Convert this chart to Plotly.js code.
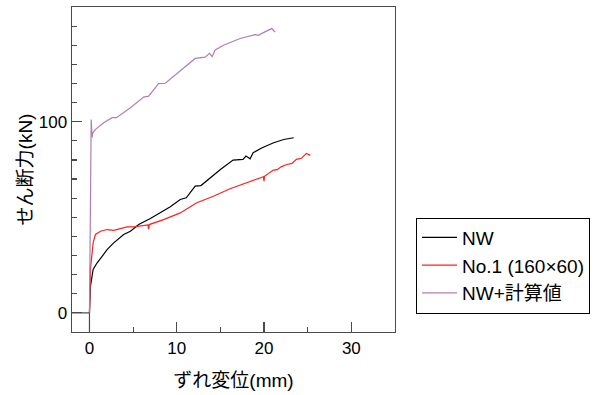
<!DOCTYPE html>
<html><head><meta charset="utf-8">
<script src="https://cdn.plot.ly/plotly-3.0.1.min.js"></script>
<style>html,body{margin:0;padding:0;background:#fff}#chart{width:597px;height:395px}</style>
</head><body><div id="chart"></div>
<script>
const seriesNames = ["NW", "No.1 (160×60)", "NW+計算値"];
const nwX = [0, 0.11, 0.42, 0.88, 1.45, 2.02, 2.78, 3.92, 4.69, 5.64, 6.98, 7.74, 9.26, 10.4, 11.09, 12.11, 12.77, 15.0, 16.45, 17.59, 17.93, 18.4, 18.75, 19.78, 21.1, 22.25, 23.4];
const nwY = [0, 13.9, 22.7, 26.2, 29.6, 33.1, 36.6, 41.0, 42.7, 46.2, 49.4, 51.5, 55.5, 59.3, 60.2, 66.3, 66.6, 75.0, 79.9, 80.3, 82.0, 80.6, 83.8, 86.4, 89.0, 90.7, 91.6];
const no1X = [0, 0.11, 0.42, 0.69, 1.26, 2.02, 2.78, 3.54, 4.31, 5.07, 6.21, 6.7, 6.78, 6.85, 8.49, 10.4, 12.3, 14.2, 16.1, 18.0, 19.15, 19.92, 20.0, 20.05, 21.07, 21.5, 22.0, 22.6, 23.2, 23.7, 24.3, 24.85, 25.3];
const no1Y = [0, 22.7, 36.6, 41.0, 42.7, 43.6, 43.2, 44.0, 45.0, 45.0, 45.7, 46.0, 43.8, 46.2, 48.8, 52.3, 57.6, 61.0, 64.9, 68.1, 70.2, 71.2, 68.9, 71.4, 74.7, 74.9, 76.5, 77.6, 78.2, 80.3, 80.9, 83.4, 82.4];
const calcX = [0, 0.2, 0.3, 0.38, 0.69, 1.63, 2.59, 3.09, 4.69, 6.21, 6.78, 7.92, 8.69, 10.4, 12.11, 13.26, 13.75, 14.06, 14.4, 15.35, 17.26, 18.97, 19.35, 19.92, 20.88, 21.26];
const calcY = [0, 101.2, 91.8, 94.2, 96.0, 99.5, 102.1, 102.1, 107.3, 112.9, 113.4, 119.9, 120.1, 126.5, 133.1, 133.8, 135.8, 134.0, 137.5, 140.0, 143.5, 145.5, 145.2, 146.6, 148.7, 146.9];
const xTicks = [0, 10, 20, 30];
const yTicks = [0, 100];
const xRange = [-2, 35];
const yRange = [-10, 160];

const FONT = "Liberation Sans, Arial, Noto Sans CJK JP, sans-serif";
const AX = "#4a4a4a";
const traces = [
  {x: nwX, y: nwY, name: seriesNames[0], mode: "lines", line: {color: "#000000", width: 1.2}},
  {x: no1X, y: no1Y, name: seriesNames[1], mode: "lines", line: {color: "#ff2020", width: 1.2}},
  {x: calcX, y: calcY, name: seriesNames[2], mode: "lines", line: {color: "#b07fb0", width: 1.2}}
];
const axisCommon = {
  showgrid: false, zeroline: false, showline: true, mirror: true,
  linecolor: AX, linewidth: 1.4, ticks: "inside", ticklen: 10, tickcolor: AX, tickwidth: 1.2,
  tickfont: {family: FONT, size: 17, color: "#000"}
};
const layout = {
  width: 597, height: 395,
  margin: {l: 72, r: 202, t: 7, b: 63},
  paper_bgcolor: "#fff", plot_bgcolor: "#fff",
  font: {family: FONT, size: 17, color: "#000"},
  xaxis: Object.assign({}, axisCommon, {
    range: xRange, tickmode: "array", tickvals: xTicks, ticktext: xTicks.map(String),
    minor: {dtick: 5, tick0: 0, ticks: "inside", ticklen: 5, tickcolor: AX},
    title: {text: "ずれ変位(mm)", font: {family: FONT, size: 19}, standoff: 17}
  }),
  yaxis: Object.assign({}, axisCommon, {
    range: yRange, tickmode: "array", tickvals: yTicks, ticktext: yTicks.map(String),
    minor: {dtick: 10, tick0: 0, ticks: "inside", ticklen: 5, tickcolor: AX},
    title: {text: "せん断力(kN)", font: {family: FONT, size: 19}, standoff: 1}
  }),
  shapes: [
    {type: "line", xref: "x", yref: "y", x0: xRange[0], x1: 0, y0: 0, y1: 0, line: {color: AX, width: 1.2}},
    {type: "line", xref: "x", yref: "y", x0: 0, x1: 0, y0: yRange[0], y1: 0, line: {color: AX, width: 1.2}}
  ],
  showlegend: true,
  legend: {x: 1.065, xanchor: "left", y: 0.352, yanchor: "top",
    bordercolor: "#000", borderwidth: 1, bgcolor: "#fff", itemwidth: 35,
    font: {family: FONT, size: 19, color: "#000"}, tracegroupgap: 0}
};
Plotly.newPlot("chart", traces, layout, {staticPlot: true, displayModeBar: false});
</script></body></html>
